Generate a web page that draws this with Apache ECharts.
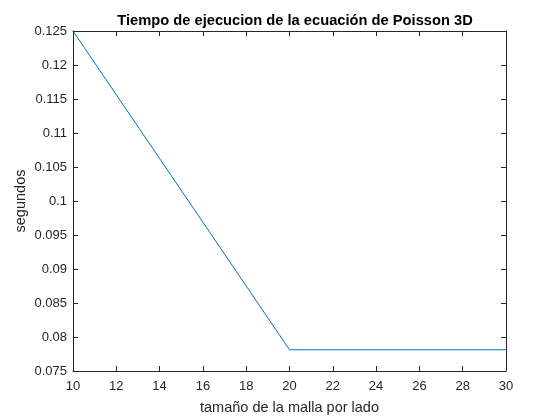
<!DOCTYPE html>
<html><head><meta charset="utf-8">
<script src="https://cdn.jsdelivr.net/npm/echarts@6/dist/echarts.min.js"></script>
<style>html,body{margin:0;padding:0;background:#fff}#c{width:560px;height:420px}</style>
</head><body><div id="c"></div>
<script>
var xValues = [10, 20, 30];
var yValues = [0.125, 0.078125, 0.078125];
var titleText = 'Tiempo de ejecucion de la ecuación de Poisson 3D';
var xName = 'tamaño de la malla por lado';
var yName = 'segundos';

var chart = echarts.init(document.getElementById('c'), null, {renderer: 'canvas'});
var axisCol = '#262626';
function xa(pos, show) {
  return {
    type: 'value', position: pos, min: 10, max: 30, interval: 2,
    name: show ? xName : '', nameLocation: 'middle', nameGap: 29, nameMoveOverlap: false,
    nameTextStyle: {fontFamily: 'Liberation Sans, Arial', fontSize: 14.5, color: axisCol},
    axisLine: {show: true, onZero: false, lineStyle: {color: axisCol, width: 1}},
    axisTick: {show: true, inside: true, length: 5, lineStyle: {color: axisCol}},
    axisLabel: {show: show, fontFamily: 'Liberation Sans, Arial', fontSize: 13, color: axisCol, margin: 9,
      formatter: function (v) { return String(v); }},
    splitLine: {show: false}
  };
}
function ya(pos, show) {
  return {
    type: 'value', position: pos, min: 0.075, max: 0.125, interval: 0.005,
    name: show ? yName : '', nameLocation: 'middle', nameGap: 45, nameMoveOverlap: false,
    nameTextStyle: {fontFamily: 'Liberation Sans, Arial', fontSize: 14.5, color: axisCol},
    axisLine: {show: true, onZero: false, lineStyle: {color: axisCol, width: 1}},
    axisTick: {show: true, inside: true, length: 5, lineStyle: {color: axisCol}},
    axisLabel: {show: show, fontFamily: 'Liberation Sans, Arial', fontSize: 13, color: axisCol, margin: 6,
      formatter: function (v) { return String(parseFloat(v.toFixed(4))); }},
    splitLine: {show: false}
  };
}
chart.setOption({
  animation: false,
  backgroundColor: '#ffffff',
  title: {
    text: titleText, left: 290, top: 8, textAlign: 'center',
    textStyle: {fontFamily: 'Liberation Sans, Arial', fontSize: 14.7, fontWeight: 'bold', color: '#000'}
  },
  grid: {left: 73, right: 54, top: 31, bottom: 47, containLabel: false},
  xAxis: [xa('bottom', true), xa('top', false)],
  yAxis: [ya('left', true), ya('right', false)],
  series: [{
    type: 'line',
    data: xValues.map(function (x, i) { return [x, yValues[i]]; }),
    showSymbol: false, symbol: 'none',
    lineStyle: {color: '#0072BD', width: 1}
  }]
});
</script></body></html>
